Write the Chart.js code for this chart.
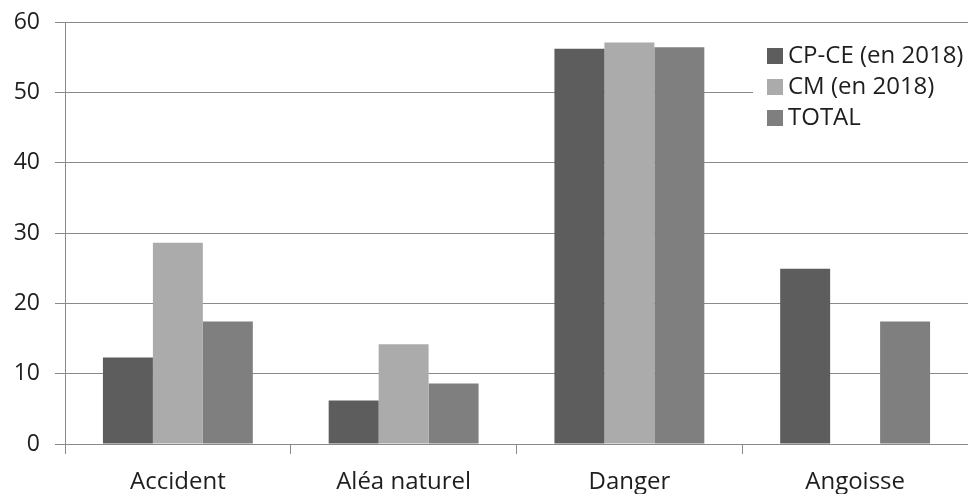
<!DOCTYPE html>
<html>
<head>
<meta charset="utf-8">
<script src="https://cdn.jsdelivr.net/npm/chart.js@4.4.1/dist/chart.umd.min.js"></script>
<style>
  html, body { margin: 0; padding: 0; background: #ffffff; }
  #wrap { position: relative; width: 968px; height: 494px; overflow: hidden; }
  #c { display: block; }
  #legend {
    position: absolute; left: 753px; top: 38px; width: 215px;
    background: #ffffff; padding: 0 0 8px 0;
    font-family: 'Open Sans', sans-serif; font-size: 24px; color: #1e1e1e;
  }
  #legend .row { height: 31px; line-height: 31px; white-space: nowrap; padding-left: 14px; }
  #legend .sw { display: inline-block; width: 16px; height: 16px; margin-right: 5px; vertical-align: -1px; }
</style>
</head>
<body>
<div id="wrap">
  <canvas id="c" width="968" height="494"></canvas>
  <div id="legend"></div>
</div>
<script>
const categories = ['Accident', 'Aléa naturel', 'Danger', 'Angoisse'];
const seriesNames = ['CP-CE (en 2018)', 'CM (en 2018)', 'TOTAL'];
const cpce = [12.3, 6.2, 56.2, 24.9];
const cm = [28.6, 14.2, 57.1, 0];
const total = [17.4, 8.6, 56.4, 17.4];
const yTicks = [0, 10, 20, 30, 40, 50, 60];
const seriesColors = ['#5d5d5d', '#ababab', '#7f7f7f'];

const seriesValues = [cpce, cm, total];
const gridColor = '#8a8a8a';
const textColor = '#1e1e1e';

Chart.defaults.font.family = "'Open Sans', sans-serif";
Chart.defaults.color = textColor;

const datasets = seriesNames.map((name, i) => ({
  label: name,
  data: seriesValues[i],
  backgroundColor: seriesColors[i],
  borderWidth: 0,
  barPercentage: 1.0,
  categoryPercentage: 0.664
}));

new Chart(document.getElementById('c'), {
  type: 'bar',
  data: { labels: categories, datasets: datasets },
  options: {
    responsive: false,
    animation: false,
    events: [],
    layout: { padding: { top: 22, right: 0, bottom: 0, left: 0 } },
    plugins: { legend: { display: false }, tooltip: { enabled: false } },
    scales: {
      x: {
        offset: true,
        grid: { display: true, drawOnChartArea: false, drawTicks: true, tickLength: 10, offset: true, color: gridColor, lineWidth: 1 },
        border: { display: true, color: gridColor, width: 1 },
        ticks: { font: { size: 24 }, color: textColor, padding: 14, maxRotation: 0, autoSkip: false },
        afterFit: (s) => { s.height = 50; s.paddingLeft = 0; s.paddingRight = 0; }
      },
      y: {
        min: yTicks[0],
        max: yTicks[yTicks.length - 1],
        afterBuildTicks: (s) => { s.ticks = yTicks.map(v => ({ value: v })); },
        grid: { display: true, drawOnChartArea: true, drawTicks: true, tickLength: 10, color: gridColor, lineWidth: 1 },
        border: { display: true, color: gridColor, width: 1 },
        ticks: { font: { size: 23 }, color: textColor, padding: 15 },
        afterFit: (s) => { s.width = 65; s.paddingTop = 0; s.paddingBottom = 0; }
      }
    }
  }
});

const leg = document.getElementById('legend');
seriesNames.forEach((name, i) => {
  const row = document.createElement('div');
  row.className = 'row';
  const sw = document.createElement('span');
  sw.className = 'sw';
  sw.style.background = seriesColors[i];
  row.appendChild(sw);
  row.appendChild(document.createTextNode(name));
  leg.appendChild(row);
});
</script>
</body>
</html>
